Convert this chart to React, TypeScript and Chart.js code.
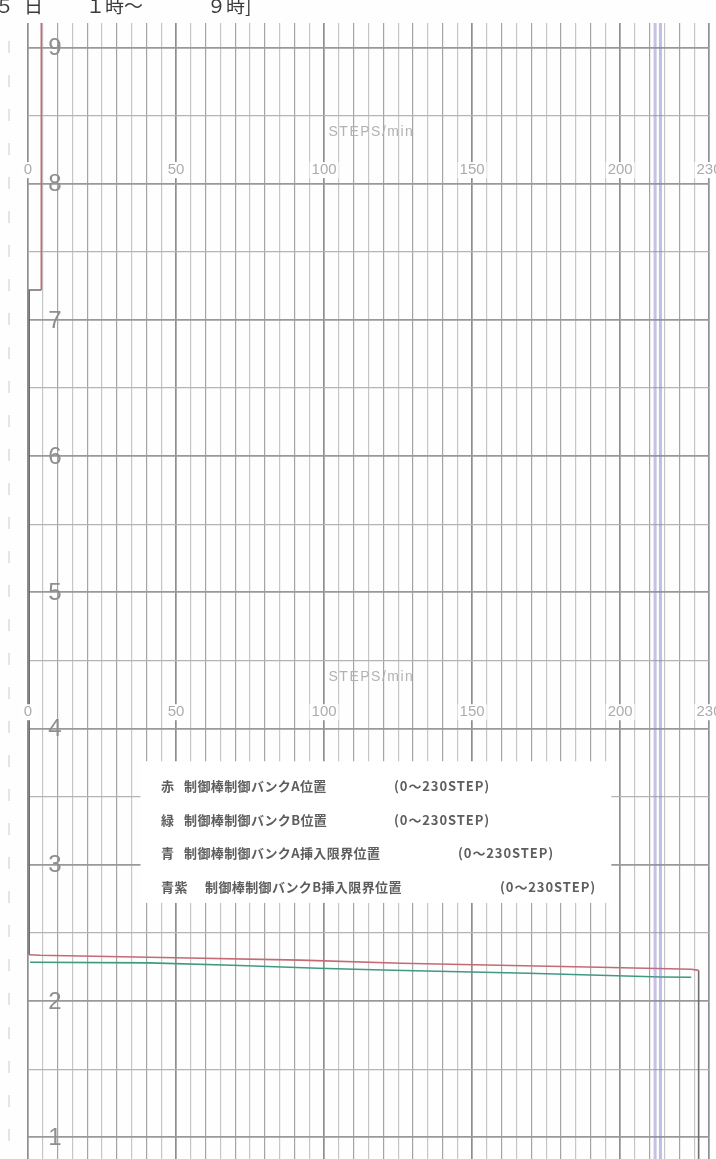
import { useEffect, useRef } from "react";
import { Chart, registerables } from "chart.js";

Chart.register(...registerables);

// Scale limits: rod position in steps (horizontal), clock hour (vertical, upward)
const STEP_MIN = 0;
const STEP_MAX = 230;
const HOUR_MIN = 0.84;
const HOUR_MAX = 9.18;

// Printed scale legends on the chart paper
const HOUR_LABELS = [1, 2, 3, 4, 5, 6, 7, 8, 9];
const STEP_LABELS = [0, 50, 100, 150, 200, 230];
const STEP_LABEL_ROWS = [8.1, 4.12];
const UNIT_TEXT = "STEPS/min";
const UNIT_ROWS = [8.38, 4.38];
const UNIT_STEP = 116;

// Header fragments
const TITLE_PARTS = ["５", "日", "１時～", "９時]"];

// Legend lines
const LEGEND_COLORS = ["赤", "緑", "青", "青紫"];
const LEGEND_NAMES = [
  "制御棒制御バンクA位置",
  "制御棒制御バンクB位置",
  "制御棒制御バンクA挿入限界位置",
  "制御棒制御バンクB挿入限界位置",
];
const LEGEND_RANGE = "(0〜230STEP)";

// Control bank A position (red pen)
const bankASteps = [226.5, 226.5, 224, 193, 159, 126, 92, 50, 4, 0.4, 0.4, 4.5, 4.5];
const bankAHours = [0.84, 2.225, 2.233, 2.248, 2.262, 2.277, 2.3, 2.318, 2.336, 2.34, 7.22, 7.22, 9.18];

// Control bank B position (green pen)
const bankBSteps = [224, 214, 169, 123, 98, 69, 41, 0.7];
const bankBHours = [2.174, 2.176, 2.204, 2.226, 2.24, 2.262, 2.28, 2.284];

// Insertion limit positions
const limitASteps = [213.6, 213.6];
const limitAHours = [HOUR_MIN, HOUR_MAX];
const limitBSteps = [211.8, 211.8];
const limitBHours = [HOUR_MIN, HOUR_MAX];

const zip = (xs: number[], ys: number[]) => xs.map((x, i) => ({ x, y: ys[i] }));

const OVERLAP = "#6e6e6e";

const paperPlugin = {
  id: "paperPrint",
  afterDraw(chart: any) {
    const { ctx, chartArea, scales } = chart;
    const xs = scales.x;
    const ys = scales.y;
    ctx.save();

    // margin marks along the paper edge
    ctx.strokeStyle = "#d2d2d2";
    ctx.lineWidth = 1.2;
    ctx.setLineDash([12, 22]);
    ctx.beginPath();
    ctx.moveTo(chartArea.left - 19, chartArea.top + 18);
    ctx.lineTo(chartArea.left - 19, chartArea.bottom);
    ctx.stroke();
    ctx.setLineDash([]);

    // hour numerals
    ctx.fillStyle = "#8e8e8e";
    ctx.font = "24px 'Liberation Sans Narrow', 'Liberation Sans', sans-serif";
    ctx.textAlign = "center";
    ctx.textBaseline = "middle";
    HOUR_LABELS.forEach((h) => {
      ctx.fillText(String(h), chartArea.left + 27, ys.getPixelForValue(h) + 1);
    });

    // step scale rows
    ctx.font = "15px 'Liberation Sans', sans-serif";
    STEP_LABEL_ROWS.forEach((row) => {
      const py = ys.getPixelForValue(row);
      STEP_LABELS.forEach((s) => {
        const px = xs.getPixelForValue(s);
        const t = String(s);
        const w = ctx.measureText(t).width;
        ctx.fillStyle = "#ffffff";
        ctx.fillRect(px - w / 2 - 2, py - 8, w + 4, 16);
        ctx.fillStyle = "#acacac";
        ctx.fillText(t, px, py);
      });
    });

    // unit caption
    ctx.font = "14px 'Liberation Sans', sans-serif";
    (ctx as any).letterSpacing = "1.5px";
    UNIT_ROWS.forEach((row) => {
      const py = ys.getPixelForValue(row);
      const px = xs.getPixelForValue(UNIT_STEP);
      ctx.fillStyle = "#b2b2b2";
      ctx.fillText(UNIT_TEXT, px, py);
    });
    (ctx as any).letterSpacing = "0px";

    // legend panel
    const boxLeft = xs.getPixelForValue(38);
    const boxRight = xs.getPixelForValue(197);
    const boxTop = ys.getPixelForValue(3.76);
    const boxBottom = ys.getPixelForValue(2.72);
    ctx.fillStyle = "#ffffff";
    ctx.fillRect(boxLeft, boxTop, boxRight - boxLeft, boxBottom - boxTop);

    ctx.fillStyle = "#5e5e5e";
    ctx.textAlign = "left";
    ctx.font = "bold 13px 'Noto Sans CJK JP', sans-serif";
    const rangeX = [394, 394, 458, 500];
    LEGEND_NAMES.forEach((name, i) => {
      const py = boxTop + 25 + i * 33.5;
      (ctx as any).letterSpacing = "0.4px";
      ctx.fillText(LEGEND_COLORS[i], 161, py);
      ctx.fillText(name, i === 3 ? 205 : 184, py);
      (ctx as any).letterSpacing = "0.9px";
      ctx.fillText(LEGEND_RANGE, rangeX[i], py);
    });
    (ctx as any).letterSpacing = "0px";

    // header, running past the top edge of the sheet
    ctx.fillStyle = "#3a3a3a";
    ctx.font = "19px 'Noto Sans CJK JP', serif";
    ctx.textBaseline = "alphabetic";
    ctx.fillText(TITLE_PARTS[0], -5, 13);
    ctx.fillText(TITLE_PARTS[1], 24, 13);
    ctx.fillText(TITLE_PARTS[2], 86, 13);
    ctx.fillText(TITLE_PARTS[3], 207, 13);

    ctx.restore();
  },
};

export default function App() {
  const ref = useRef<HTMLCanvasElement | null>(null);

  useEffect(() => {
    if (!ref.current) return;
    const overlapped = (c: any) => {
      const a = c.p0.parsed;
      const b = c.p1.parsed;
      if (a.y === b.y) return true;
      if (a.x < 1 && b.x < 1) return true;
      if (a.x > 225 && b.x > 225) return true;
      return false;
    };
    const chart = new Chart(ref.current, {
      type: "scatter",
      data: {
        datasets: [
          {
            label: "青紫",
            data: zip(limitBSteps, limitBHours),
            showLine: true,
            borderColor: "rgba(150,130,200,0.5)",
            borderWidth: 3,
            pointRadius: 0,
          },
          {
            label: "青",
            data: zip(limitASteps, limitAHours),
            showLine: true,
            borderColor: "rgba(120,130,210,0.5)",
            borderWidth: 3,
            pointRadius: 0,
          },
          {
            label: "赤",
            data: zip(bankASteps, bankAHours),
            showLine: true,
            borderColor: "#c46a74",
            borderWidth: 1.6,
            pointRadius: 0,
            segment: {
              borderColor: (c: any) => (overlapped(c) ? OVERLAP : undefined),
            },
          },
          {
            label: "緑",
            data: zip(bankBSteps, bankBHours),
            showLine: true,
            borderColor: "#3f9a80",
            borderWidth: 1.6,
            pointRadius: 0,
          },
        ],
      },
      options: {
        animation: false,
        responsive: false,
        maintainAspectRatio: false,
        layout: { padding: { left: 28, right: 7, top: 23, bottom: 0 } },
        plugins: {
          legend: { display: false },
          tooltip: { enabled: false },
          title: { display: false },
        },
        scales: {
          x: {
            type: "linear",
            min: STEP_MIN,
            max: STEP_MAX,
            border: { display: false },
            ticks: { display: false, stepSize: 5 },
            grid: {
              drawTicks: false,
              color: (c: any) => {
                const v = Math.round(c.tick.value);
                if (v % 50 === 0 || v === STEP_MAX) return "#8e8e8e";
                if (v % 10 === 0) return "#a4a4a4";
                return "#c6c6c6";
              },
              lineWidth: (c: any) => {
                const v = Math.round(c.tick.value);
                return v % 50 === 0 || v === STEP_MAX ? 1.7 : 1.2;
              },
            },
          },
          y: {
            type: "linear",
            min: HOUR_MIN,
            max: HOUR_MAX,
            border: { display: false },
            ticks: { display: false, stepSize: 0.5 },
            grid: {
              drawTicks: false,
              color: (c: any) => {
                const v = c.tick.value;
                const half = Math.round(v * 2) / 2;
                if (Math.abs(v - half) > 1e-6) return "rgba(0,0,0,0)";
                return Number.isInteger(half) ? "#999999" : "#b4b4b4";
              },
              lineWidth: (c: any) => (Number.isInteger(Math.round(c.tick.value * 2) / 2) ? 1.8 : 1.2),
            },
          },
        },
      },
      plugins: [paperPlugin],
    });
    return () => chart.destroy();
  }, []);

  return (
    <div style={{ position: "absolute", left: 0, top: 0, width: 716, height: 1159, background: "#fefefe" }}>
      <canvas ref={ref} width={716} height={1159} style={{ display: "block" }} />
    </div>
  );
}
